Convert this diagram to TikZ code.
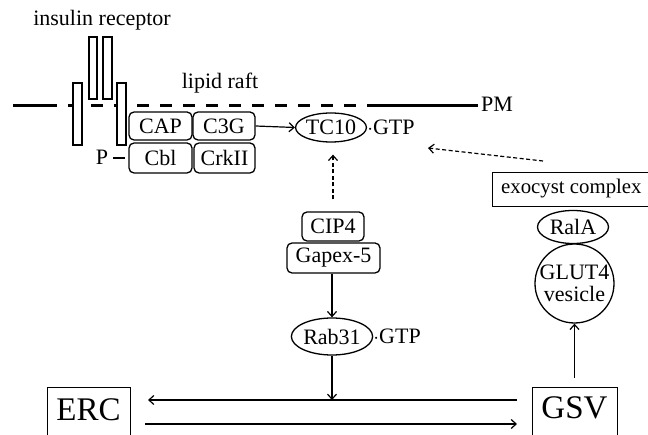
\documentclass[tikz,border=0pt]{standalone}
\usepackage{fontspec}
\setmainfont{Liberation Serif}
\usetikzlibrary{arrows.meta,shapes.geometric}
\tikzset{
  txt/.style={inner sep=0pt, font=\fontsize{22}{24}\selectfont},
  bigtxt/.style={inner sep=0pt, font=\fontsize{33}{35}\selectfont},
  rbox/.style={draw, line width=1.3pt, rounded corners=5pt, inner sep=0pt, font=\fontsize{22}{24}\selectfont},
  ebox/.style={draw, line width=1.3pt, ellipse, inner sep=0pt, font=\fontsize{22}{24}\selectfont},
  recp/.style={draw, line width=1.3pt, fill=white},
  arr/.style={line width=1.2pt, -{Straight Barb[length=5pt,width=9pt]}},
  darr/.style={line width=1.2pt, dash pattern=on 4pt off 2.5pt, -{Straight Barb[length=5pt,width=9pt]}},
  pm/.style={line width=3.2pt}
}
\begin{document}
\begin{tikzpicture}[x=1pt,y=-1pt]
\useasboundingbox (0,0) rectangle (648,435);
\begin{scope}
\clip (0,0) rectangle (648,435);
% plasma membrane
\coordinate (pmA) at (13,105.5);
\coordinate (pmB) at (57,105.5);
\coordinate (pmC) at (68,105.5);
\coordinate (pmD) at (375,105.5);
\coordinate (pmE) at (478,105.5);
\draw[pm] (pmA) -- (pmB);
\draw[pm, dash pattern=on 12pt off 11pt] (pmC) -- (pmD);
\draw[pm] (pmD) -- (pmE);
\node[txt, anchor=west] (pmlab) at (481,104) {PM};

% insulin receptor
\node[txt] (ins) at (102,20) {insulin receptor};
\draw[recp] (73,83) rectangle (82,145);
\draw[recp] (89,37) rectangle (97,99);
\draw[recp] (103,37) rectangle (112,99);
\draw[recp] (117,83) rectangle (126,145);

\node[txt] (raft) at (220,83) {lipid raft};

% complexes
\node[rbox, minimum width=63pt, minimum height=28pt] (cap) at (160.5,126) {CAP};
\node[rbox, minimum width=62pt, minimum height=28pt] (c3g) at (224,126) {C3G};
\node[rbox, minimum width=63pt, minimum height=30pt] (cbl) at (160.5,158) {Cbl};
\node[rbox, minimum width=61pt, minimum height=30pt] (crk) at (224.5,158) {CrkII};
\node[txt] (p) at (102,157) {P};
\draw[line width=1.2pt] (p.east) ++(5,1) coordinate (pd1) -- (125,158) coordinate (pd2);

% TC10
\node[ebox, minimum width=62pt, minimum height=29pt] (tc10) at (331,127.5) {TC10};
\node[txt, anchor=west] (gtp1) at (tc10.east) {$\cdot$GTP};
\draw[arr] (c3g.east) -- (tc10.west);

% exocyst
\node[draw, line width=1.3pt, rectangle, anchor=north west, minimum width=170pt, minimum height=34pt, inner sep=0pt] (exo) at (492,172) {};
\node[inner sep=0pt, anchor=west, font=\fontsize{20.8}{23}\selectfont] (exotxt) at (501,189) {exocyst complex};
\coordinate (exoS) at (543,161);
\coordinate (exoT) at (428,148);
\draw[darr] (exoS) -- (exoT);

\node[ebox, minimum width=71pt, minimum height=33pt] (rala) at (573,227) {RalA};
\node[draw, line width=1.3pt, circle, minimum size=79pt, inner sep=0pt, align=center, font=\fontsize{22}{24}\selectfont] (glut) at (574.5,283.5) {GLUT4\\[-2pt]vesicle};

% CIP4 / Gapex-5
\node[rbox, minimum width=62pt, minimum height=29pt] (cip) at (333,226.5) {CIP4};
\node[rbox, minimum width=93pt, minimum height=30pt] (gap) at (333.5,258) {Gapex-5};
\draw[darr, shorten <=12pt, shorten >=12pt] (cip.north) -- (cip.north |- tc10.south);

\node[ebox, minimum width=70pt, minimum height=37pt] (rab) at (332,336.5) {Rab31};
\node[txt, anchor=west] (gtp2) at (rab.east) {$\cdot$GTP};
\draw[arr] (gap.south -| rab.north) -- (rab.north);

% ERC / GSV
\node[draw, line width=1.3pt, anchor=north west, minimum width=83pt, minimum height=60pt, inner sep=0pt] (erc) at (47,387) {};
\node[bigtxt] (erctxt) at (88.5,410) {ERC};
\node[draw, line width=1.3pt, anchor=north west, minimum width=85pt, minimum height=60pt, inner sep=0pt] (gsv) at (532,387) {};
\node[bigtxt] (gsvtxt) at (574.5,408) {GSV};

\coordinate (u1) at (517,400);
\coordinate (u2) at (148,400);
\coordinate (junc) at (332,400);
\coordinate (l1) at (145,424);
\coordinate (l2) at (517,424);
\draw[arr] (u1) -- (u2);
\draw[arr] (l1) -- (l2);
\draw[arr] (rab.south) -- (junc);
\draw[arr, shorten <=9pt] (gsv.north -| glut.south) -- (glut.south);
\end{scope}
\end{tikzpicture}
\end{document}
